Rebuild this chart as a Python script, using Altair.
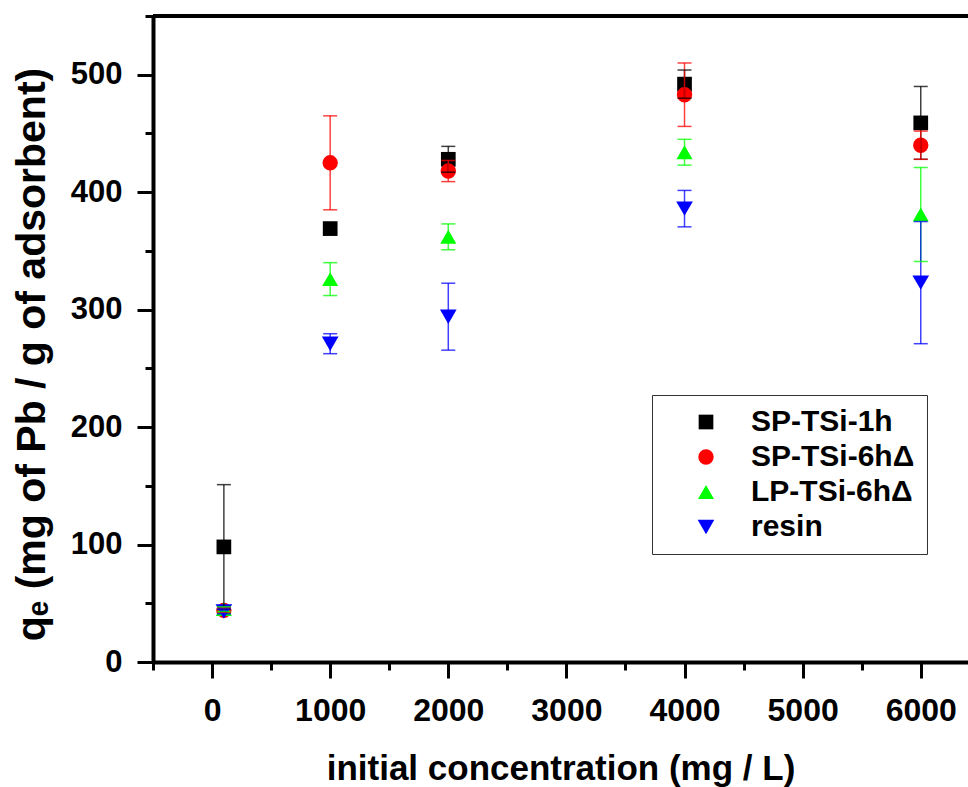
import altair as alt
import pandas as pd

conc = [100, 1000, 2000, 4000, 6000]
series_names = ["SP-TSi-1h", "SP-TSi-6hΔ", "LP-TSi-6hΔ", "resin"]
q_sp1h = [98, 369, 428, 492, 459]
e_sp1h = [53, 3, 11, 12, 31]
q_sp6h = [44, 425, 418, 483, 440]
e_sp6h = [2, 40, 9, 27, 12]
q_lp6h = [45, 326, 362, 434, 381]
e_lp6h = [2, 14, 11, 11, 40]
q_resin = [43, 271, 294, 386, 323]
e_resin = [2, 8.5, 28.5, 15.5, 52]

colors = ["#000000", "#ff0000", "#00ff00", "#0000ff"]
shapes = ["square", "circle", "triangle-up", "triangle-down"]
sizes = [216, 278, 361, 361]

rows = []
for name, qs, es in zip(series_names,
                        [q_sp1h, q_sp6h, q_lp6h, q_resin],
                        [e_sp1h, e_sp6h, e_lp6h, e_resin]):
    for c, q, e in zip(conc, qs, es):
        rows.append({"conc": c, "q": q, "lo": q - e, "hi": q + e, "series": name})
df = pd.DataFrame(rows)

FONT = "Liberation Sans"

xscale = alt.Scale(domain=[-500, 6400], nice=False, zero=False)
yscale = alt.Scale(domain=[0, 550], nice=False, zero=False)

xaxis = alt.Axis(
    values=list(range(-500, 6401, 500)),
    labelExpr="datum.value % 1000 === 0 ? datum.label : ''",
    format="d",
    tickSize={"condition": {"test": "datum.value % 1000 !== 0", "value": 8}, "value": 16},
    tickWidth=3, tickColor="black",
    domainColor="black", domainWidth=4,
    labelFont=FONT, labelFontSize=32, labelFontWeight="bold", labelColor="black",
    labelPadding=17, labelFlush=False, labelOverlap=False,
    title="initial concentration (mg / L)",
    titleFont=FONT, titleFontSize=35, titleFontWeight="bold", titleColor="black",
    titlePadding=25, grid=False,
)
yaxis = alt.Axis(
    values=list(range(0, 551, 50)),
    labelExpr="datum.value % 100 === 0 ? datum.label : ''",
    format="d",
    tickSize={"condition": {"test": "datum.value % 100 !== 0", "value": 8}, "value": 16},
    tickWidth=3, tickColor="black",
    domainColor="black", domainWidth=4,
    labelFont=FONT, labelFontSize=31, labelFontWeight="bold", labelColor="black",
    labelPadding=15, labelFlush=False, labelOverlap=False,
    title="qₑ (mg of Pb / g of adsorbent)",
    titleFont=FONT, titleFontSize=41, titleFontWeight="bold", titleColor="black",
    titlePadding=17, titleY=338, grid=False,
)

color = alt.Color("series:N", scale=alt.Scale(domain=series_names, range=colors),
                  legend=alt.Legend(
                      title=None, orient="none", legendX=499, legendY=379,
                      strokeColor="#333333", fillColor="white", padding=12,
                      symbolOffset=27, labelOffset=30, rowPadding=5,
                      labelLimit=0,
                      labelFont=FONT, labelFontSize=30, labelFontWeight="bold",
                      labelColor="black", symbolStrokeWidth=0))
shape = alt.Shape("series:N", scale=alt.Scale(domain=series_names, range=shapes))
size = alt.Size("series:N", scale=alt.Scale(domain=series_names, range=sizes))

base = alt.Chart(df)

points = base.mark_point(filled=True, opacity=1).encode(
    x=alt.X("conc:Q", scale=xscale, axis=xaxis),
    y=alt.Y("q:Q", scale=yscale, axis=yaxis),
    color=color, shape=shape, size=size,
)

bars = base.mark_rule(strokeWidth=1.5, opacity=0.75).encode(
    x=alt.X("conc:Q", scale=xscale, axis=xaxis),
    y=alt.Y("lo:Q", scale=yscale, axis=yaxis),
    y2="hi:Q",
    color=alt.Color("series:N", scale=alt.Scale(domain=series_names, range=colors), legend=None),
)
caps_lo = base.mark_tick(orient="horizontal", size=14, thickness=1.5, opacity=0.75).encode(
    x=alt.X("conc:Q", scale=xscale, axis=xaxis),
    y=alt.Y("lo:Q", scale=yscale, axis=yaxis),
    color=alt.Color("series:N", scale=alt.Scale(domain=series_names, range=colors), legend=None),
)
caps_hi = base.mark_tick(orient="horizontal", size=14, thickness=1.5, opacity=0.75).encode(
    x=alt.X("conc:Q", scale=xscale, axis=xaxis),
    y=alt.Y("hi:Q", scale=yscale, axis=yaxis),
    color=alt.Color("series:N", scale=alt.Scale(domain=series_names, range=colors), legend=None),
)

topline = alt.Chart(pd.DataFrame({"a": [0]})).mark_rule(
    strokeWidth=4, color="black").encode(y=alt.value(0))

chart = alt.layer(points, bars, caps_lo, caps_hi, topline).properties(
    width=815, height=646,
    autosize=alt.AutoSizeParams(type="none"),
    padding={"left": 153, "top": 16, "right": 0, "bottom": 125},
    background="white",
).configure_view(stroke=None)

chart.save("out.html", embed_options={"renderer": "svg", "actions": False})
